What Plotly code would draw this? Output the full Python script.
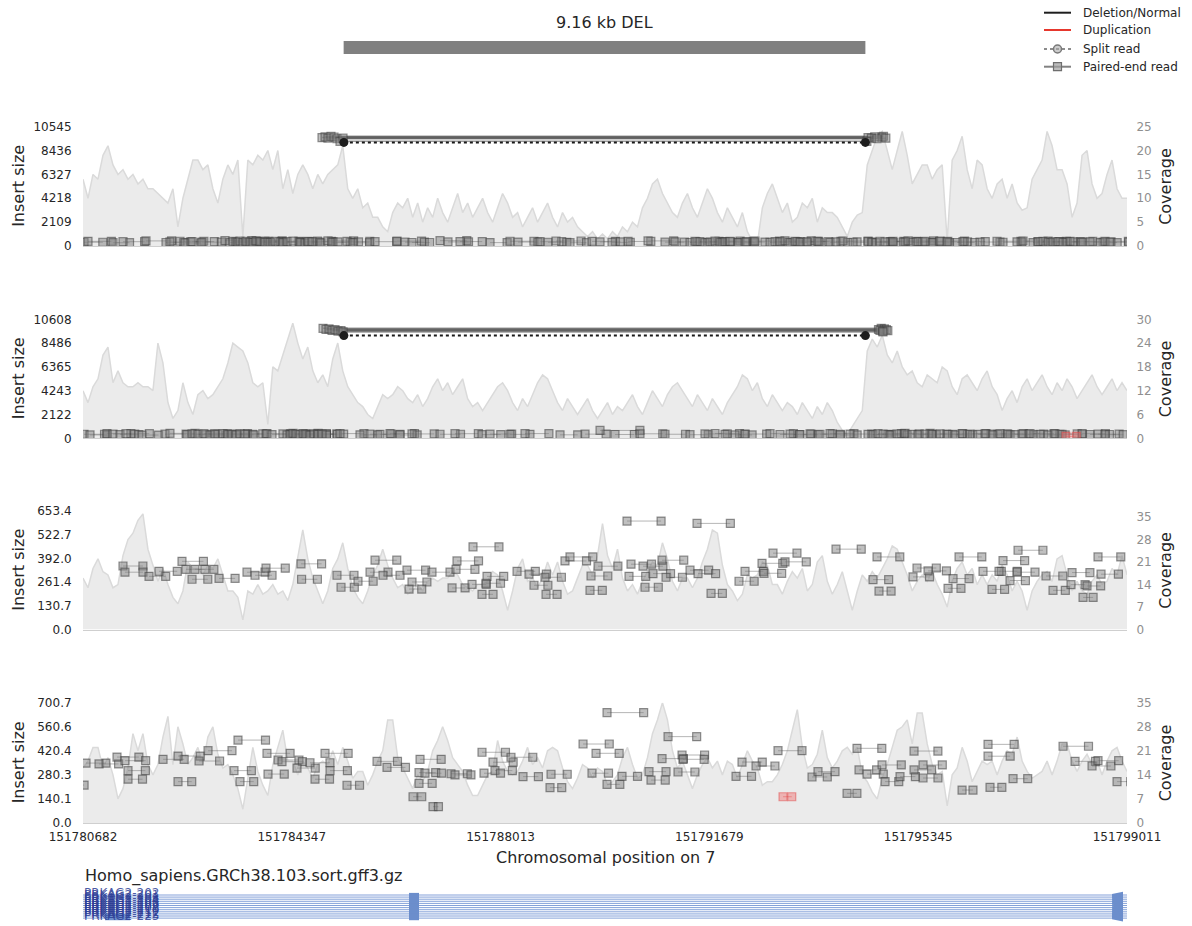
import plotly.graph_objects as go

# ---------------------------------------------------------------- data
WIN_START, WIN_END = 151780682, 151799011
SV_START, SV_END = 151785258, 151794418
SV_TYPE = "DEL"
CHROM = "7"
GFF_NAME = "Homo_sapiens.GRCh38.103.sort.gff3.gz"

x_tick_vals = [151780682, 151784347, 151788013, 151791679, 151795345, 151799011]

ins_max = [10545, 10608, 653.4, 700.7]
ins_decimals = [0, 0, 1, 1]
cov_top = [25, 30, 36.9, 35]
cov_tick_step = [5, 6, 7, 7]

COV_BIN = 87.7  # bp per coverage bin

cov_1 = [14, 10, 15, 14, 19, 21, 17, 15, 16, 14, 15, 13, 14, 12, 12, 11, 10, 9, 12, 4,
         10, 14, 18, 18, 16, 17, 12, 9, 14, 17, 15, 18, 2, 18, 17, 19, 18, 20, 16, 20,
         12, 16, 11, 15, 17, 15, 12, 15, 13, 15, 16, 17, 21, 12, 10, 12, 8, 9, 6, 6,
         4, 3, 7, 9, 8, 10, 6, 9, 5, 8, 6, 10, 7, 5, 8, 11, 7, 9, 6, 8,
         10, 7, 5, 8, 11, 9, 6, 7, 4, 6, 8, 5, 7, 9, 6, 4, 7, 5, 6, 4,
         3, 2, 3, 1.5, 2.5, 1.5, 3, 2, 4, 3, 5, 4, 8, 10, 13, 14, 11, 9, 7, 6,
         9, 11, 8, 6, 9, 12, 10, 7, 5, 8, 6, 4, 7, 3, 1, 0.5, 8, 11, 13, 10,
         7, 9, 5, 6, 9, 8, 10, 5, 8, 7, 7, 6, 4, 2, 5, 6.5, 7, 17, 20, 23,
         24, 20, 16, 20, 24, 19, 13, 15, 17, 17, 14, 16, 17, 1, 18, 20, 23, 16, 12, 18,
         17, 12, 10, 13, 14, 10, 13, 9, 7.5, 8, 14, 16, 18, 24, 21, 16, 16, 13, 6, 9,
         19, 20, 13, 10, 11, 15, 18, 12, 10, 10]

cov_2 = [12, 9, 13, 15, 21, 23, 14, 17, 14, 13, 13, 14, 13, 13, 12, 24, 19, 9, 5, 7,
         14, 9, 6, 11, 12, 10, 11, 13, 15, 19, 24, 23, 22, 19, 14, 13, 14, 3.5, 18, 17,
         21, 25, 29, 24, 20, 23, 17, 14, 16, 13, 20, 24, 17, 13, 11, 9, 8, 6, 5, 8,
         11, 10, 11, 13, 12, 10, 9, 11, 8, 10, 13, 15, 12, 14, 11, 13, 15, 10, 8, 9,
         7, 9, 11, 13, 14, 12, 9, 7, 10, 8, 11, 14, 16, 15, 12, 9, 7, 10, 8, 6,
         8, 10, 7, 5, 7, 9, 6, 8, 7, 9, 11, 8, 6, 9, 12, 10, 8, 11, 13, 14,
         12, 10, 8, 11, 9, 7, 10, 8, 6, 9, 11, 13, 16, 15, 12, 14, 10, 8, 11, 9,
         7, 9, 8, 6, 9, 7, 5, 8, 6, 9, 7, 4, 2, 1, 3, 5, 7, 22, 25, 23,
         26, 21, 19, 22, 18, 16, 17, 14, 13, 16, 15, 14, 18, 17, 13, 11, 15, 16, 14, 12,
         15, 17, 13, 11, 7, 10, 12, 9, 13, 15, 12, 14, 16, 13, 11, 14, 12, 15, 13, 10,
         12, 14, 16, 13, 11, 13, 15, 12, 14, 12]

cov_3 = [16, 13, 19, 22, 18, 17, 13, 14, 23, 28, 30, 34, 36, 25, 20, 15, 19, 14, 10, 8,
         12, 21, 19, 19, 17, 20, 19, 22, 17, 12, 12, 10, 3, 12, 11, 14, 11, 12, 14, 11,
         12, 9, 14, 22, 31, 22, 16, 12, 8, 12, 19, 22, 27, 19, 13, 10, 8, 12, 17, 20,
         25, 20, 16, 13, 14, 11, 12, 14, 12, 15, 16, 15, 16, 16, 18, 17, 14, 13, 12, 14,
         14, 15, 18, 17, 12, 6, 12, 19, 22, 15, 16, 13, 16, 21, 17, 21, 15, 11, 12, 16,
         20, 20, 17, 23, 33, 23, 19, 25, 16, 12, 14, 11, 15, 18, 21, 20, 27, 22, 15, 12,
         16, 16, 13, 16, 21, 25, 31, 30, 20, 14, 12, 9, 11, 17, 16, 17, 21, 20, 14, 14,
         11, 15, 18, 16, 19, 12, 14, 21, 23, 15, 11, 14, 18, 12, 6, 12, 17, 15, 18, 16,
         19, 22, 26, 25, 21, 17, 12, 15, 17, 15, 18, 14, 11, 7, 15, 19, 21, 17, 19, 14,
         17, 14, 17, 15, 20, 17, 12, 15, 12, 6, 12, 15, 17, 18, 15, 22, 23, 17, 12, 15,
         12, 11, 15, 17, 14, 15, 19, 17, 23, 17]

cov_4 = [16, 18, 22, 22, 16, 19, 14, 7, 10, 16, 26, 21, 26, 17, 14, 17, 25, 31, 17, 28,
         23, 17, 19, 22, 17, 25, 28, 20, 16, 17, 14, 10, 4, 13, 22, 15, 11, 8, 17, 22,
         27, 18, 18, 14, 18, 16, 13, 17, 18, 17, 21, 17, 22, 18, 13, 15, 15, 11, 14, 18,
         21, 30, 30, 19, 16, 13, 10, 14, 12, 15, 21, 24, 28, 24, 19, 17, 15, 11, 8, 8,
         11, 14, 15, 24, 18, 15, 14, 15, 18, 22, 17, 19, 16, 21, 22, 21, 16, 12, 10, 13,
         17, 16, 13, 16, 15, 11, 12, 14, 19, 22, 17, 13, 14, 19, 26, 30, 35, 30, 21, 16,
         18, 14, 10, 14, 17, 19, 16, 18, 14, 18, 17, 13, 17, 21, 18, 16, 11, 12, 12, 14,
         17, 21, 27, 33, 22, 16, 17, 20, 27, 19, 16, 18, 21, 22, 20, 22, 14, 12, 9, 7,
         13, 17, 22, 27, 28, 30, 23, 32, 32, 23, 17, 14, 15, 5, 14, 16, 22, 18, 12, 15,
         18, 17, 18, 14, 18, 21, 20, 25, 18, 15, 13, 14, 15, 18, 14, 18, 23, 23, 18, 15,
         18, 20, 17, 18, 14, 18, 21, 22, 18, 15]

# concordant paired-end reads (left read start, insert size)
pe_start_1 = [151780700, 151780770, 151781209, 151781384, 151781788, 151782139, 151782209, 151782385, 151782473, 151782596,
              151782771, 151783175, 151783263, 151783316, 151783368, 151783403, 151783438, 151783491, 151783544, 151783614,
              151783667, 151783719, 151783790, 151783877, 151784053, 151784141, 151784193, 151784264, 151784369, 151784492,
              151784580, 151784632, 151784703, 151784983, 151785054, 151785159, 151785317, 151785422, 151785809, 151786195,
              151786335, 151786458, 151786950, 151787090, 151787301, 151787828, 151788179, 151788319, 151788706, 151788846,
              151788986, 151789232, 151789619, 151789759, 151789970, 151790251, 151790602, 151790900, 151791076, 151791339,
              151791427, 151791515, 151791602, 151791690, 151791778, 151791866, 151791954, 151792041, 151792182, 151792305,
              151792480, 151792744, 151792831, 151792919, 151793007, 151793095, 151793183, 151793270, 151793393, 151793569,
              151793797, 151793902, 151794025, 151794201, 151794464, 151794534, 151794605, 151794675, 151794763, 151794903,
              151795079, 151795167, 151795254, 151795342, 151795465, 151795605, 151795728, 151795851, 151796027, 151796132,
              151796431, 151796729, 151796834, 151797080, 151797186, 151797361, 151797449, 151797537, 151797625, 151797712,
              151797800, 151797888, 151798011, 151798239, 151798362, 151798538, 151798625, 151798713]
pe_ins_1 = [330, 410, 290, 380, 450, 310, 360, 420, 280, 390,
            340, 470, 300, 410, 370, 330, 440, 290, 400, 350,
            310, 460, 380, 320, 420, 360, 300, 390, 430, 340,
            280, 410, 370, 450, 320, 360, 400, 290, 380, 430,
            340, 310, 470, 360, 390, 300, 420, 350, 380, 330,
            440, 290, 410, 360, 320, 400, 450, 340, 370, 310,
            420, 390, 300, 360, 440, 330, 380, 410, 290, 350,
            430, 320, 390, 360, 460, 300, 410, 340, 380, 420,
            310, 370, 440, 330, 390, 350, 300, 420, 360, 410,
            340, 450, 320, 380, 400, 290, 430, 360, 310, 390,
            350, 420, 330, 370, 440, 300, 380, 410, 340, 360,
            390, 320, 400, 350, 370, 300, 410, 330]

pe_start_2 = [151780700, 151780805, 151781103, 151781209, 151781332, 151781437, 151781718, 151782122, 151782209, 151782508,
              151782596, 151782701, 151782806, 151782912, 151783000, 151783140, 151783228, 151783298, 151783368, 151783438,
              151783526, 151783912, 151784000, 151784193, 151784264, 151784316, 151784369, 151784422, 151784492, 151784545,
              151784597, 151784667, 151784738, 151784808, 151784878, 151785194, 151785545, 151785721, 151785896, 151786072,
              151786248, 151786458, 151786950, 151787213, 151787687, 151787828, 151788179, 151788442, 151789057, 151789496,
              151789759, 151790022, 151790461, 151790900, 151791339, 151791602, 151791778, 151791954, 151792129, 151792305,
              151792744, 151792919, 151793095, 151793270, 151793446, 151793621, 151793797, 151793973, 151794148, 151794464,
              151794552, 151794640, 151794728, 151794850, 151794973, 151795114, 151795237, 151795342, 151795465, 151795588,
              151795728, 151795869, 151795992, 151796115, 151796255, 151796395, 151796518, 151796659, 151796782, 151796922,
              151797045, 151797168, 151797309, 151797484, 151797625, 151797747, 151797870, 151798222, 151798362, 151798502,
              151798625]
pe_ins_2 = [360, 300, 420, 380, 330, 410, 290, 370, 440, 320,
            390, 350, 410, 300, 380, 430, 340, 360, 310, 400,
            370, 420, 330, 390, 300, 350, 440, 380, 320, 410,
            360, 290, 400, 340, 380, 420, 310, 370, 350, 430,
            300, 390, 360, 410, 330, 380, 350, 420, 310, 370,
            700, 340, 400, 360, 320, 390, 430, 350, 300, 380,
            410, 340, 370, 320, 390, 360, 420, 300, 380, 350,
            330, 410, 370, 300, 390, 440, 350, 320, 380, 360,
            400, 340, 310, 420, 370, 350, 390, 300, 410, 360,
            330, 380, 420, 350, 300, 390, 360, 410, 340, 370,
            320]

pe_start_3 = [151781384, 151781419, 151781841, 151782016, 151782420, 151782490, 151782648, 151782596, 151783070, 151783561,
              151783702, 151783895, 151784509, 151784520, 151785141, 151785212, 151785510, 151785721, 151785809, 151785949,
              151786370, 151786809, 151787248, 151787231, 151786458, 151786406, 151787529, 151787161, 151787512, 151787775,
              151787757, 151787687, 151788302, 151788512, 151788600, 151788793, 151788811, 151789144, 151789232, 151789724,
              151789601, 151789583, 151790233, 151790303, 151790514, 151790268, 151790689, 151790549, 151790847, 151790918,
              151791339, 151791462, 151791480, 151791708, 151792199, 151792305, 151792603, 151792796, 151793007, 151792638,
              151793902, 151794622, 151794552, 151794657, 151795324, 151795254, 151795518, 151795957, 151795869, 151796062,
              151796483, 151796641, 151796764, 151796834, 151797098, 151796957, 151797080, 151797589, 151797712, 151798046,
              151798028, 151798239, 151798309, 151798502, 151798555]
pe_ins_3 = [350, 316, 293, 321, 376, 332, 332, 277, 282, 316,
            299, 338, 362, 277, 299, 233, 266, 316, 382, 299,
            327, 316, 378, 332, 262, 223, 456, 229, 249, 293,
            255, 194, 321, 305, 244, 288, 194, 378, 400, 349,
            295, 216, 598, 360, 349, 293, 308, 233, 382, 288,
            327, 585, 308, 199, 266, 321, 365, 421, 373, 310,
            443, 400, 275, 212, 339, 290, 323, 281, 227, 400,
            321, 221, 321, 380, 437, 270, 316, 295, 216, 314,
            247, 177, 240, 400, 305]

pe_start_4 = [151780480, 151780735, 151780963, 151781279, 151781419, 151781472, 151781472, 151782087, 151782350, 151782350,
              151782719, 151782877, 151783333, 151783403, 151783438, 151783912, 151783930, 151784106, 151784176, 151784439,
              151784667, 151784755, 151784931, 151785019, 151785317, 151785844, 151786019, 151786599, 151786581, 151786686,
              151786581, 151786476, 151786827, 151787143, 151787213, 151787687, 151787880, 151787915, 151787722, 151788196,
              151788407, 151788899, 151788881, 151789461, 151789689, 151789618, 151789882, 151789882, 151790145, 151790619,
              151790654, 151790953, 151790848, 151791199, 151791216, 151791128, 151792252, 151792498, 151792147, 151792884,
              151793481, 151793586, 151794096, 151794271, 151794306, 151794447, 151794710, 151794763, 151795026, 151795272,
              151795272, 151795430, 151795430, 151796115, 151796571, 151796571, 151796606, 151797010, 151797888, 151798099,
              151798397, 151798502, 151798836]
pe_ins_4 = [221, 349, 344, 384, 363, 305, 255, 371, 241, 390,
            361, 421, 305, 483, 241, 406, 285, 367, 357, 320,
            351, 255, 406, 305, 220, 359, 324, 371, 293, 290,
            231, 153, 95, 287, 280, 412, 354, 305, 290, 383,
            270, 284, 206, 460, 406, 290, 225, 643, 272, 299,
            250, 503, 375, 396, 371, 297, 355, 332, 272, 421,
            268, 299, 173, 435, 309, 285, 338, 241, 270, 419,
            309, 338, 262, 192, 458, 389, 208, 258, 447, 359,
            332, 363, 241]

# discordant pairs spanning the deletion
disc_start_1 = [151784878, 151784931, 151784983, 151785036, 151785089, 151785141, 151785194, 151785247]
disc_ins_1 = [9586, 9650, 9540, 9700, 9620, 9480, 9250, 9530]
disc_start_2 = [151784896, 151784948, 151785001, 151785054, 151785106, 151785159, 151785212, 151785247]
disc_ins_2 = [9800, 9700, 9750, 9620, 9680, 9560, 9600, 9480]

# split reads
split_start_1, split_ins_1 = [151785262], [9156]
split_start_2, split_ins_2 = [151785262], [9156]

# duplication-type pairs
dup_start_2, dup_ins_2 = [151797940], [180]
dup_start_4, dup_ins_4 = [151792972], [153]

# transcripts in the annotation track
tx_names = ["PRKAG2-202", "PRKAG2-201", "PRKAG2-203", "PRKAG2-204", "PRKAG2-205", "PRKAG2-206",
            "PRKAG2-207", "PRKAG2-208", "PRKAG2-210", "PRKAG2-211", "PRKAG2-212", "PRKAG2-225"]
tx_span = (151770000, 151799011)
exon_shared = (151786406, 151786581)
exon_late = (151781068, 151781507)
exon_late_rows = [10, 11]
tx_end_exon = (151798748, 151798941)

# ---------------------------------------------------------------- layout helpers
W, H = 1192, 926
FONT = "DejaVu Sans"
TXT = "#262626"
XL, XR = 83, 1127
XDOM = [XL / W, XR / W]


def yp(py):
    return 1 - py / H


def ref(kind, n):
    return kind if n == 1 else f"{kind}{n}"


def key(kind, n):
    return f"{kind}axis" if n == 1 else f"{kind}axis{n}"


def pair_xy(starts, inserts):
    xs, ys = [], []
    for s, d in zip(starts, inserts):
        xs += [s, s + d, None]
        ys += [d, d, None]
    return xs, ys


panel_px = [(126.7, 246.0), (319.3, 438.3), (511.0, 629.5), (702.7, 823.0)]
covs = [cov_1, cov_2, cov_3, cov_4]
pe = [(pe_start_1, pe_ins_1), (pe_start_2, pe_ins_2), (pe_start_3, pe_ins_3), (pe_start_4, pe_ins_4)]
disc = {0: (disc_start_1, disc_ins_1), 1: (disc_start_2, disc_ins_2)}
split = {0: (split_start_1, split_ins_1), 1: (split_start_2, split_ins_2)}
dup = {1: (dup_start_2, dup_ins_2), 3: (dup_start_4, dup_ins_4)}

fig = go.Figure()
layout = {}
annotations = []
shapes = []

PE_MARK = dict(symbol="square", size=8, color="rgba(130,130,130,0.5)",
               line=dict(color="rgba(60,60,60,0.55)", width=1.2))
PE_LINE = dict(color="rgba(110,110,110,0.5)", width=1)

for i in range(4):
    xn, cn, iname = i + 1, 2 * i + 1, 2 * i + 2
    top, bot = panel_px[i]
    xr, cr, ir = ref("x", xn), ref("y", cn), ref("y", iname)

    cov_x = [WIN_START + k * COV_BIN for k in range(len(covs[i]))]
    fig.add_trace(go.Scatter(x=cov_x, y=covs[i], mode="lines", fill="tozeroy",
                             fillcolor="rgb(235,235,235)",
                             line=dict(color="rgb(218,218,218)", width=1.5),
                             xaxis=xr, yaxis=cr, hoverinfo="skip"))

    xs, ys = pair_xy(*pe[i])
    fig.add_trace(go.Scatter(x=xs, y=ys, mode="lines+markers", line=PE_LINE, marker=PE_MARK,
                             xaxis=xr, yaxis=ir, hoverinfo="skip"))
    if i in dup:
        xs, ys = pair_xy(*dup[i])
        fig.add_trace(go.Scatter(x=xs, y=ys, mode="lines+markers",
                                 line=dict(color="rgba(230,70,70,0.5)", width=1),
                                 marker=dict(symbol="square", size=8, color="rgba(240,110,110,0.45)",
                                             line=dict(color="rgba(225,70,70,0.5)", width=1.2)),
                                 xaxis=xr, yaxis=ir, hoverinfo="skip"))
    if i in disc:
        xs, ys = pair_xy(*disc[i])
        fig.add_trace(go.Scatter(x=xs, y=ys, mode="lines+markers",
                                 line=dict(color="rgba(90,90,90,0.6)", width=1.5), marker=PE_MARK,
                                 xaxis=xr, yaxis=ir, hoverinfo="skip"))
    if i in split:
        xs, ys = pair_xy(*split[i])
        fig.add_trace(go.Scatter(x=xs, y=ys, mode="lines+markers",
                                 line=dict(color="rgb(25,25,25)", width=2, dash="dot"),
                                 marker=dict(symbol="circle", size=9, color="rgb(30,30,30)"),
                                 xaxis=xr, yaxis=ir, hoverinfo="skip"))

    layout[key("x", xn)] = dict(
        domain=XDOM, range=[WIN_START, WIN_END], anchor=cr, automargin=False,
        showgrid=False, zeroline=False, showline=True, linecolor="#cfcfcf", linewidth=1,
        showticklabels=(i == 3), tickvals=x_tick_vals, ticktext=[str(v) for v in x_tick_vals],
        ticks="outside", ticklen=3, tickcolor="rgba(0,0,0,0)",
        tickfont=dict(family=FONT, size=12, color=TXT))

    cstep = cov_tick_step[i]
    cvals = [cstep * k for k in range(6)]
    layout[key("y", cn)] = dict(
        domain=[yp(bot), yp(top)], range=[0, cov_top[i]], side="right", anchor=xr, automargin=False,
        showgrid=False, zeroline=False, showline=False,
        tickvals=cvals, ticktext=[str(v) for v in cvals],
        ticks="outside", ticklen=6, tickcolor="rgba(0,0,0,0)",
        tickfont=dict(family=FONT, size=12, color="#8f8f8f"))

    m = ins_max[i]
    ivals = [m * k / 5 for k in range(6)]
    fmt = "{:.0f}" if ins_decimals[i] == 0 else "{:.1f}"
    layout[key("y", iname)] = dict(
        overlaying=cr, side="left", anchor=xr, range=[0, m], automargin=False,
        showgrid=False, zeroline=False, showline=False,
        tickvals=ivals, ticktext=[fmt.format(v) for v in ivals],
        ticks="outside", ticklen=8, tickcolor="rgba(0,0,0,0)",
        tickfont=dict(family=FONT, size=12, color=TXT))

    mid = yp((top + bot) / 2)
    annotations.append(dict(text="Insert size", xref="paper", yref="paper", x=18.5 / W, y=mid,
                            textangle=-90, showarrow=False, xanchor="center", yanchor="middle",
                            font=dict(family=FONT, size=16, color=TXT)))
    annotations.append(dict(text="Coverage", xref="paper", yref="paper", x=1165.5 / W, y=mid,
                            textangle=-90, showarrow=False, xanchor="center", yanchor="middle",
                            font=dict(family=FONT, size=16, color=TXT)))

annotations.append(dict(text=f"Chromosomal position on {CHROM}", xref="paper", yref="paper",
                        x=(XL + XR) / 2 / W, y=yp(857), showarrow=False,
                        xanchor="center", yanchor="middle",
                        font=dict(family=FONT, size=16, color=TXT)))

# ---------------------------------------------------------------- SV bar
layout["xaxis5"] = dict(domain=XDOM, range=[WIN_START, WIN_END], anchor="y9", visible=False, automargin=False)
layout["yaxis9"] = dict(domain=[yp(54), yp(41)], range=[0, 1], anchor="x5", visible=False, automargin=False)
shapes.append(dict(type="rect", xref="x5", yref="y9", x0=SV_START, x1=SV_END, y0=0, y1=1,
                   fillcolor="rgb(128,128,128)", line=dict(width=0)))
annotations.append(dict(text=f"{(SV_END - SV_START) / 1000:.2f} kb {SV_TYPE}", xref="x5", yref="paper",
                        x=(SV_START + SV_END) / 2, y=yp(22), showarrow=False,
                        xanchor="center", yanchor="middle",
                        font=dict(family=FONT, size=16, color=TXT)))

# ---------------------------------------------------------------- annotation track
layout["xaxis6"] = dict(domain=XDOM, range=[WIN_START, WIN_END], anchor="y10", visible=False, automargin=False)
layout["yaxis10"] = dict(domain=[yp(924), yp(888)], range=[13.8, -3.33], anchor="x6", visible=False,
                         automargin=False)
GENE_LINE = "rgba(110,145,210,0.85)"
GENE_FILL = "rgb(108,142,204)"
for r, name in enumerate(tx_names):
    fig.add_trace(go.Scatter(x=list(tx_span), y=[r, r], mode="lines",
                             line=dict(color=GENE_LINE, width=1), xaxis="x6", yaxis="y10",
                             hoverinfo="skip"))
    shapes.append(dict(type="rect", xref="x6", yref="y10", x0=exon_shared[0], x1=exon_shared[1],
                       y0=r - 1, y1=r + 1, fillcolor=GENE_FILL, line=dict(width=0)))
    if r in exon_late_rows:
        shapes.append(dict(type="rect", xref="x6", yref="y10", x0=exon_late[0], x1=exon_late[1],
                           y0=r - 1, y1=r + 1, fillcolor=GENE_FILL, line=dict(width=0)))
    a, b = tx_end_exon
    shapes.append(dict(type="path", xref="x6", yref="y10",
                       path=f"M {a},{r - 0.5} L {b},{r - 1.6} L {b},{r + 1.6} L {a},{r + 0.5} Z",
                       fillcolor=GENE_FILL, line=dict(width=0)))
    annotations.append(dict(text=name, xref="x6", yref="y10", x=WIN_START, y=r - 0.8,
                            showarrow=False, xanchor="left", yanchor="middle", borderpad=0,
                            font=dict(family=FONT, size=12, color="rgba(45,62,150,0.85)")))

annotations.append(dict(text=GFF_NAME, xref="paper", yref="paper", x=XL / W, y=yp(876),
                        showarrow=False, xanchor="left", yanchor="middle",
                        font=dict(family=FONT, size=16, color=TXT)))

# ---------------------------------------------------------------- legend
leg_rows = [12.7, 30.0, 49.0, 66.7]
leg_labels = ["Deletion/Normal", "Duplication", "Split read", "Paired-end read"]
lx0, lx1, lxm, ltx = 1044, 1071, 1057.5, 1081
leg_styles = [
    dict(color="rgb(30,30,30)", width=2),
    dict(color="rgb(230,55,45)", width=2),
    dict(color="rgb(140,140,140)", width=2, dash="dot"),
    dict(color="rgb(130,130,130)", width=2),
]
for yy, lab, st in zip(leg_rows, leg_labels, leg_styles):
    shapes.append(dict(type="line", xref="paper", yref="paper", x0=lx0 / W, x1=lx1 / W,
                       y0=yp(yy), y1=yp(yy), line=st))
    annotations.append(dict(text=lab, xref="paper", yref="paper", x=ltx / W, y=yp(yy),
                            showarrow=False, xanchor="left", yanchor="middle",
                            font=dict(family=FONT, size=12, color=TXT)))
shapes.append(dict(type="circle", xref="paper", yref="paper",
                   x0=(lxm - 4) / W, x1=(lxm + 4) / W, y0=yp(leg_rows[2] + 4), y1=yp(leg_rows[2] - 4),
                   fillcolor="rgba(170,170,170,0.6)", line=dict(color="rgb(120,120,120)", width=1.5)))
shapes.append(dict(type="rect", xref="paper", yref="paper",
                   x0=(lxm - 4) / W, x1=(lxm + 4) / W, y0=yp(leg_rows[3] + 4), y1=yp(leg_rows[3] - 4),
                   fillcolor="rgba(160,160,160,0.7)", line=dict(color="rgb(110,110,110)", width=1.2)))

fig.update_layout(
    width=W, height=H, margin=dict(l=0, r=0, t=0, b=0, autoexpand=False),
    paper_bgcolor="white", plot_bgcolor="white", showlegend=False,
    font=dict(family=FONT, color=TXT),
    annotations=annotations, shapes=shapes, **layout)

fig.write_html("out.html")
